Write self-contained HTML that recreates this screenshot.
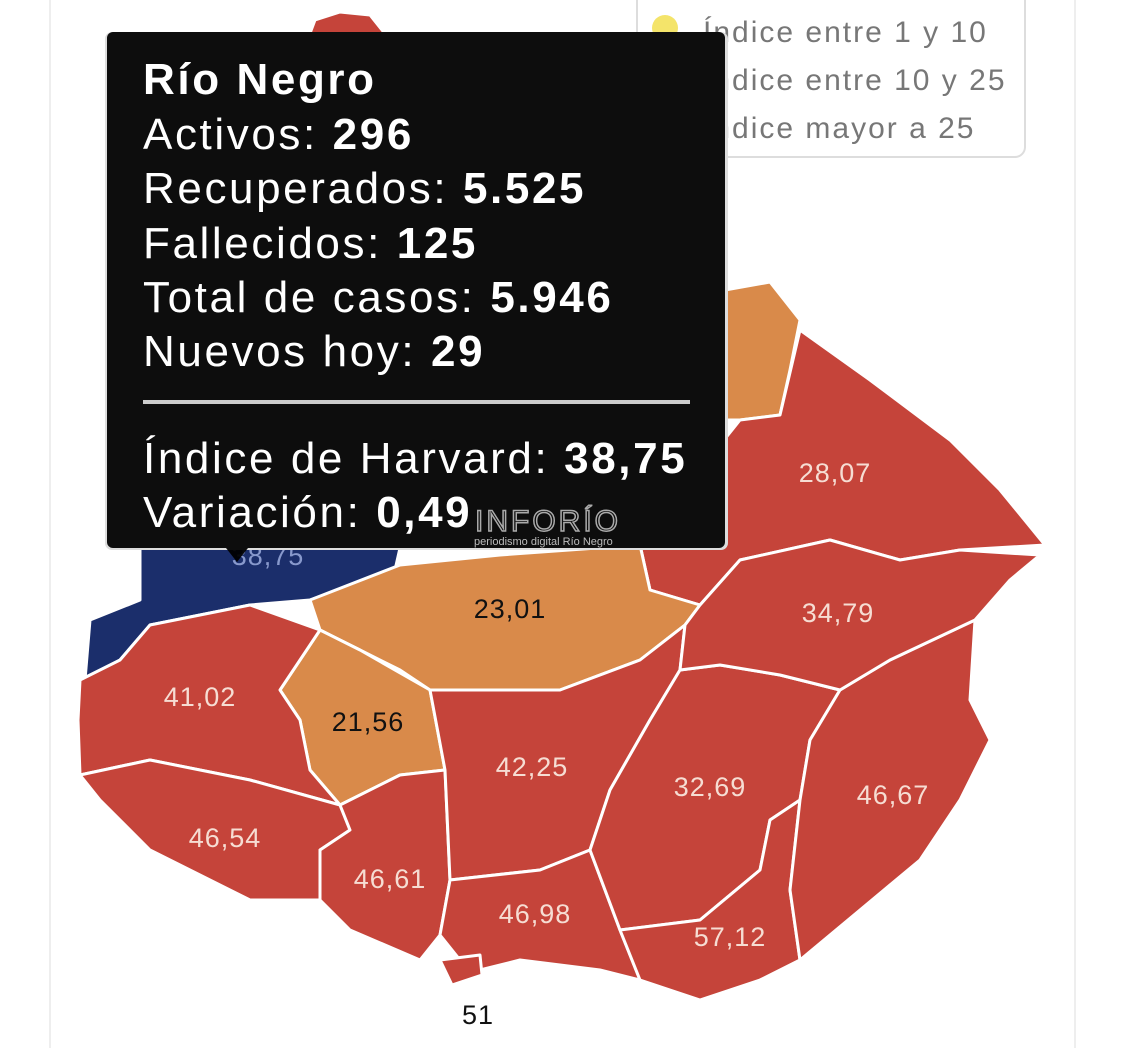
<!DOCTYPE html>
<html><head><meta charset="utf-8"><style>
html,body{margin:0;padding:0;background:#fff;width:1123px;height:1048px;overflow:hidden;font-family:"Liberation Sans",sans-serif}
</style></head><body>
<svg width="1123" height="1048" viewBox="0 0 1123 1048" style="position:absolute;left:0;top:0">
<line x1="50" y1="0" x2="50" y2="1048" stroke="#eee" stroke-width="2"/>
<line x1="1075" y1="0" x2="1075" y2="1048" stroke="#eee" stroke-width="2"/>
<g stroke="#fff" stroke-width="3" stroke-linejoin="round">
<polygon fill="#c5443a" points="315,20 340,12 370,15 390,40 450,90 520,150 600,200 650,260 725,290 725,548 140,548 120,450 130,380 170,300 200,220 220,150 260,100 300,60"/>
<polygon fill="#d98a4a" points="725,290 770,282 800,320 790,370 780,415 740,420 725,420"/>
<polygon fill="#c5443a" points="640,545 700,470 740,420 780,415 800,330 870,380 950,440 1000,490 1045,545 960,550 900,560 830,540 740,560 700,605 650,590"/>
<polygon fill="#1b2e6b" points="108,548 400,548 395,570 310,600 250,605 150,625 120,660 85,680 90,620 140,600 140,548"/>
<polygon fill="#d98a4a" points="310,600 400,565 500,555 640,545 650,590 700,605 685,625 640,660 560,690 470,690 430,690 400,670 360,650 320,630"/>
<polygon fill="#d98a4a" points="320,630 360,650 430,690 445,770 400,775 340,805 310,770 300,720 280,690"/>
<polygon fill="#c5443a" points="80,680 120,660 150,625 250,605 320,630 280,690 300,720 310,770 340,805 250,780 150,760 80,775 78,720"/>
<polygon fill="#c5443a" points="80,775 150,760 250,780 340,805 350,830 320,850 320,900 250,900 150,850 100,800"/>
<polygon fill="#c5443a" points="340,805 400,775 445,770 450,880 440,935 420,960 350,930 320,900 320,850 350,830"/>
<polygon fill="#c5443a" points="430,690 560,690 640,660 685,625 680,670 650,720 610,790 590,850 540,870 450,880 445,770"/>
<polygon fill="#c5443a" points="450,880 540,870 590,850 620,930 640,980 600,970 520,960 480,970 460,960 440,935"/>
<polygon fill="#c5443a" points="440,960 480,955 482,975 452,985"/>
<polygon fill="#c5443a" points="680,670 720,665 780,675 840,690 810,740 800,800 770,820 760,870 700,920 620,930 590,850 610,790 650,720"/>
<polygon fill="#c5443a" points="620,930 700,920 760,870 770,820 800,800 790,890 800,960 760,980 700,1000 640,980"/>
<polygon fill="#c5443a" points="840,690 890,660 975,620 970,700 990,740 960,800 920,860 860,910 830,935 800,960 790,890 800,800 810,740"/>
<polygon fill="#c5443a" points="685,625 700,605 740,560 830,540 900,560 960,550 1040,555 1010,580 975,620 890,660 840,690 780,675 720,665 680,670"/>
</g>
<g font-size="27" text-anchor="middle" fill="#f6ddd3" letter-spacing="1">
<text x="835" y="482">28,07</text>
<text x="838" y="622">34,79</text>
<text x="200" y="706">41,02</text>
<text x="532" y="776">42,25</text>
<text x="710" y="796">32,69</text>
<text x="893" y="804">46,67</text>
<text x="225" y="847">46,54</text>
<text x="390" y="888">46,61</text>
<text x="535" y="923">46,98</text>
<text x="730" y="946">57,12</text>
<text x="268" y="565" fill="#8899cc">38,75</text>
</g>
<g font-size="27" text-anchor="middle" fill="#111" letter-spacing="1">
<text x="510" y="618">23,01</text>
<text x="368" y="731">21,56</text>
<text x="478" y="1024">51</text>
</g>
<rect x="637" y="-10" width="388" height="167" rx="10" fill="#fff" stroke="#ddd" stroke-width="2"/>
<circle cx="665" cy="28" r="13" fill="#f4e46a"/>
<circle cx="665" cy="78" r="13" fill="#e9a050"/>
<circle cx="665" cy="126" r="13" fill="#c5443a"/>
<g font-size="30" fill="#777" letter-spacing="2">
<text x="703" y="42">Índice entre 1 y 10</text>
<text x="703" y="90">Índice entre 10 y 25</text>
<text x="703" y="138">Índice mayor a 25</text>
</g>
<rect x="105" y="32" width="623" height="518" rx="7" fill="#ddd"/>
<rect x="107" y="32" width="618" height="516" rx="6" fill="rgba(0,0,0,0.94)"/>
<polygon points="226,548 248,548 237,562" fill="rgba(0,0,0,0.94)"/>
<g fill="#fff" font-size="44" letter-spacing="2.6">
<text x="143" y="94" font-weight="bold">Río Negro</text>
<text x="143" y="149">Activos: <tspan font-weight="bold">296</tspan></text>
<text x="143" y="203">Recuperados: <tspan font-weight="bold">5.525</tspan></text>
<text x="143" y="258">Fallecidos: <tspan font-weight="bold">125</tspan></text>
<text x="143" y="312">Total de casos: <tspan font-weight="bold">5.946</tspan></text>
<text x="143" y="366">Nuevos hoy: <tspan font-weight="bold">29</tspan></text>
<text x="143" y="473">Índice de Harvard: <tspan font-weight="bold">38,75</tspan></text>
<text x="143" y="527">Variación: <tspan font-weight="bold">0,49</tspan></text>
</g>
<rect x="143" y="400" width="547" height="4" fill="#ccc"/>
<text x="475" y="531" font-size="30" fill="none" stroke="#aaa" stroke-width="1.5" letter-spacing="3">INFORÍO</text>
<text x="474" y="545" font-size="11" fill="#bbb">periodismo digital Río Negro</text>
</svg>
</body></html>
